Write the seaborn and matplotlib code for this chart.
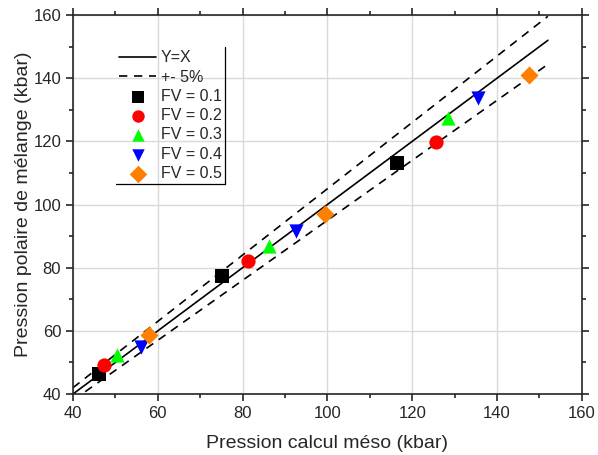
import matplotlib.pyplot as plt
import seaborn as sns
import numpy as np
from matplotlib.lines import Line2D

# Data
fv_labels = ['FV = 0.1', 'FV = 0.2', 'FV = 0.3', 'FV = 0.4', 'FV = 0.5']
meso = [
    [46.2, 75.1, 116.3],
    [47.3, 81.3, 125.5],
    [50.3, 86.3, 128.5],
    [56.0, 92.5, 135.6],
    [57.9, 99.5, 147.5],
]
polaire = [
    [46.4, 77.5, 113.1],
    [49.2, 82.2, 119.9],
    [52.4, 86.9, 127.5],
    [55.0, 91.6, 133.6],
    [58.7, 97.0, 141.0],
]
couleurs = ['black', 'red', '#00ff00', 'blue', '#ff8000']
marqueurs = ['s', 'o', '^', 'v', 'D']

x_ref = [40, 152]

sns.set_style('ticks')
plt.rcParams['font.family'] = ['Liberation Sans', 'DejaVu Sans']

fig = plt.figure(figsize=(5.98, 4.55), dpi=100)
ax = fig.add_axes([0.122, 0.134, 0.851, 0.833])

ax.grid(True, color='#d9d9d9', linewidth=1)
ax.set_axisbelow(True)

xr = np.array(x_ref, dtype=float)
sns.lineplot(x=xr, y=xr, color='black', linewidth=1.2, label='Y=X', ax=ax)
sns.lineplot(x=xr, y=1.05 * xr, color='black', linewidth=1.2, label='+- 5%', ax=ax)
sns.lineplot(x=xr, y=0.95 * xr, color='black', linewidth=1.2, ax=ax)
for line in ax.lines[1:]:
    line.set_linestyle((0, (5, 4)))

for lab, xs, ys, c, m in zip(fv_labels, meso, polaire, couleurs, marqueurs):
    sz = 85 if m == 'D' else 105
    sns.scatterplot(x=xs, y=ys, color=c, marker=m, s=sz, linewidth=0,
                    label=lab, ax=ax, zorder=3)

ax.set_xlim(40, 160)
ax.set_ylim(40, 160)
ax.set_xticks(range(40, 161, 20))
ax.set_yticks(range(40, 161, 20))
ax.set_xticks(range(50, 160, 20), minor=True)
ax.set_yticks(range(50, 160, 20), minor=True)
ax.tick_params(which='both', direction='out', labelsize=12, width=1.2,
               top=True, right=True)
ax.tick_params(which='major', length=5)
ax.tick_params(which='minor', length=3)
for sp in ax.spines.values():
    sp.set_visible(True)
    sp.set_linewidth(1.2)

ax.set_xlabel('Pression calcul méso (kbar)', fontsize=14, labelpad=10)
ax.set_ylabel('Pression polaire de mélange (kbar)', fontsize=14, labelpad=1)

leg = ax.legend(loc='upper left', bbox_to_anchor=(0.0845, 0.9156), fontsize=11.5,
                frameon=False, handlelength=2.3, handletextpad=0.3,
                labelspacing=0.27, borderpad=0.2, borderaxespad=0)
for h in leg.legend_handles:
    if hasattr(h, 'set_sizes'):
        h.set_sizes([80])

# Origin-style legend border: right and bottom edges only
fig.canvas.draw()
bb = leg.get_window_extent().transformed(fig.transFigure.inverted())
fig.add_artist(Line2D([bb.x1, bb.x1], [bb.y0, bb.y1], color='black', lw=0.9))
fig.add_artist(Line2D([bb.x0, bb.x1], [bb.y0, bb.y0], color='black', lw=0.9))

fig.savefig('out.png', dpi=100)
